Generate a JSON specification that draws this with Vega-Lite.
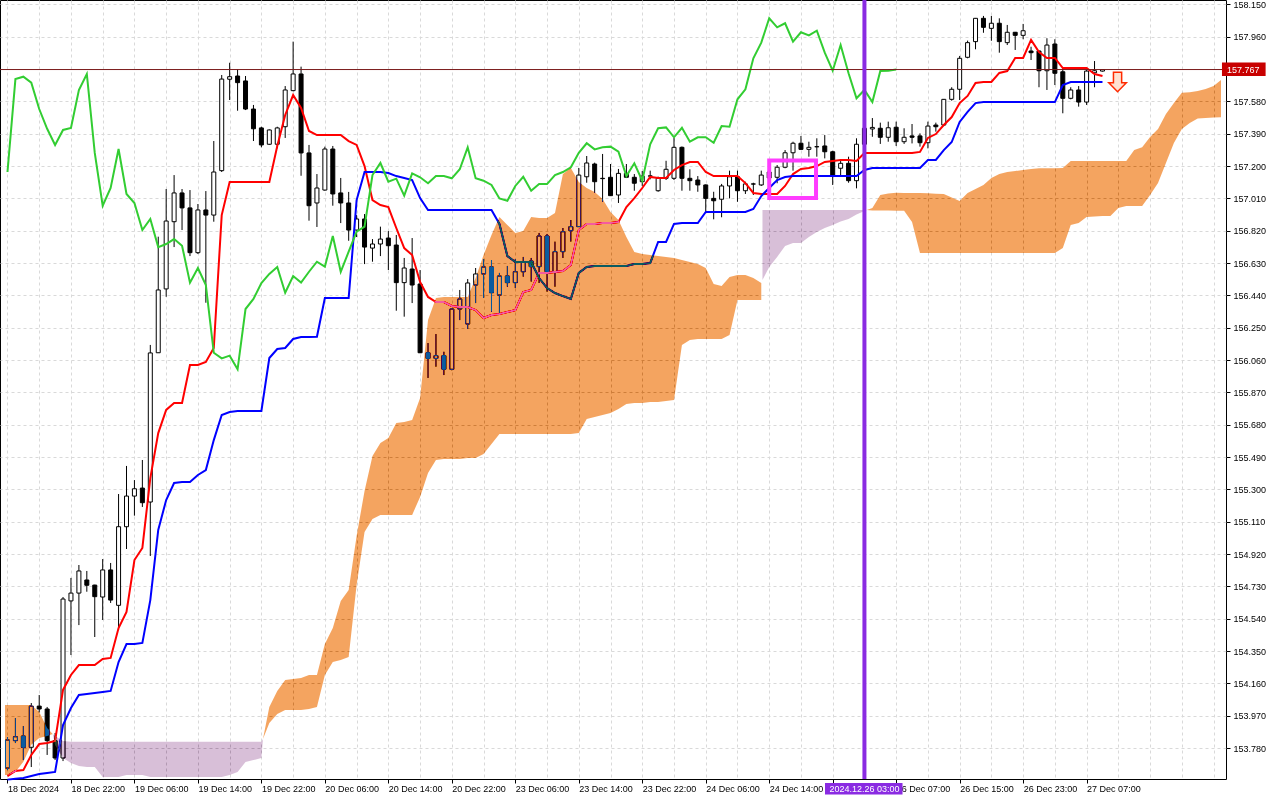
{
"$schema":"https://vega.github.io/schema/vega-lite/v6.json",
"width":1226,"height":779,
"autosize":{"type":"none"},
"padding":{"left":0,"top":0,"right":54,"bottom":21},
"background":"white",
"config":{"view":{"stroke":"#000000","strokeWidth":1,"fill":"white"},"font":"Liberation Sans","axis":{"labelOverlap":false,"tickCount":200}},
"datasets":{
"candles":[
{"i":0,"o":153.663,"h":153.845,"l":153.651,"c":153.828},
{"i":1,"o":153.824,"h":153.957,"l":153.810,"c":153.847},
{"i":2,"o":153.851,"h":153.910,"l":153.710,"c":153.785},
{"i":3,"o":153.785,"h":154.045,"l":153.669,"c":154.027},
{"i":4,"o":154.027,"h":154.092,"l":153.990,"c":154.010},
{"i":5,"o":154.010,"h":154.022,"l":153.740,"c":153.824},
{"i":6,"o":153.824,"h":153.869,"l":153.710,"c":153.722},
{"i":7,"o":153.722,"h":154.668,"l":153.704,"c":154.656},
{"i":8,"o":154.645,"h":154.780,"l":154.327,"c":154.691},
{"i":9,"o":154.691,"h":154.856,"l":154.503,"c":154.821},
{"i":10,"o":154.768,"h":154.821,"l":154.699,"c":154.737},
{"i":11,"o":154.738,"h":154.740,"l":154.433,"c":154.670},
{"i":12,"o":154.668,"h":154.891,"l":154.533,"c":154.827},
{"i":13,"o":154.827,"h":154.868,"l":154.633,"c":154.650},
{"i":14,"o":154.619,"h":155.273,"l":154.474,"c":155.081},
{"i":15,"o":155.081,"h":155.438,"l":154.950,"c":155.261},
{"i":16,"o":155.261,"h":155.355,"l":155.146,"c":155.304},
{"i":17,"o":155.308,"h":155.473,"l":155.197,"c":155.222},
{"i":18,"o":155.226,"h":156.149,"l":154.909,"c":156.102},
{"i":19,"o":156.103,"h":156.785,"l":156.102,"c":156.472},
{"i":20,"o":156.478,"h":157.065,"l":156.432,"c":156.877},
{"i":21,"o":156.873,"h":157.147,"l":156.724,"c":157.042},
{"i":22,"o":157.042,"h":157.065,"l":156.824,"c":156.954},
{"i":23,"o":156.954,"h":157.059,"l":156.671,"c":156.691},
{"i":24,"o":156.691,"h":156.977,"l":156.683,"c":156.942},
{"i":25,"o":156.942,"h":157.053,"l":156.397,"c":156.912},
{"i":26,"o":156.912,"h":157.347,"l":156.873,"c":157.165},
{"i":27,"o":157.173,"h":157.735,"l":157.165,"c":157.711},
{"i":28,"o":157.710,"h":157.807,"l":157.588,"c":157.725},
{"i":29,"o":157.729,"h":157.770,"l":157.525,"c":157.690},
{"i":30,"o":157.700,"h":157.729,"l":157.529,"c":157.535},
{"i":31,"o":157.535,"h":157.559,"l":157.347,"c":157.419},
{"i":32,"o":157.424,"h":157.431,"l":157.310,"c":157.324},
{"i":33,"o":157.328,"h":157.415,"l":157.325,"c":157.412},
{"i":34,"o":157.328,"h":157.431,"l":157.304,"c":157.424},
{"i":35,"o":157.431,"h":157.670,"l":157.365,"c":157.647},
{"i":36,"o":157.643,"h":157.931,"l":157.640,"c":157.741},
{"i":37,"o":157.741,"h":157.784,"l":157.143,"c":157.277},
{"i":38,"o":157.277,"h":157.324,"l":156.879,"c":156.967},
{"i":39,"o":156.983,"h":157.153,"l":156.842,"c":157.071},
{"i":40,"o":157.059,"h":157.314,"l":157.055,"c":157.300},
{"i":41,"o":157.300,"h":157.318,"l":156.967,"c":157.036},
{"i":42,"o":157.042,"h":157.130,"l":156.865,"c":156.983},
{"i":43,"o":156.983,"h":157.048,"l":156.761,"c":156.824},
{"i":44,"o":156.824,"h":156.912,"l":156.783,"c":156.889},
{"i":45,"o":156.889,"h":156.918,"l":156.624,"c":156.724},
{"i":46,"o":156.718,"h":156.771,"l":156.638,"c":156.742},
{"i":47,"o":156.742,"h":156.844,"l":156.671,"c":156.771},
{"i":48,"o":156.777,"h":156.818,"l":156.589,"c":156.732},
{"i":49,"o":156.736,"h":156.795,"l":156.350,"c":156.515},
{"i":50,"o":156.515,"h":156.660,"l":156.315,"c":156.601},
{"i":51,"o":156.595,"h":156.777,"l":156.395,"c":156.501},
{"i":52,"o":156.507,"h":156.589,"l":156.101,"c":156.103},
{"i":53,"o":156.103,"h":156.160,"l":155.955,"c":156.070},
{"i":54,"o":156.070,"h":156.213,"l":156.021,"c":156.086},
{"i":55,"o":156.086,"h":156.109,"l":155.972,"c":156.006},
{"i":56,"o":156.006,"h":156.366,"l":156.000,"c":156.360},
{"i":57,"o":156.360,"h":156.472,"l":156.295,"c":156.419},
{"i":58,"o":156.272,"h":156.536,"l":156.243,"c":156.513},
{"i":59,"o":156.501,"h":156.601,"l":156.395,"c":156.566},
{"i":60,"o":156.566,"h":156.654,"l":156.425,"c":156.607},
{"i":61,"o":156.607,"h":156.648,"l":156.344,"c":156.456},
{"i":62,"o":156.442,"h":156.572,"l":156.337,"c":156.554},
{"i":63,"o":156.554,"h":156.613,"l":156.491,"c":156.515},
{"i":64,"o":156.515,"h":156.654,"l":156.483,"c":156.579},
{"i":65,"o":156.579,"h":156.666,"l":156.550,"c":156.638},
{"i":66,"o":156.642,"h":156.660,"l":156.521,"c":156.609},
{"i":67,"o":156.609,"h":156.807,"l":156.513,"c":156.789},
{"i":68,"o":156.789,"h":156.801,"l":156.462,"c":156.579},
{"i":69,"o":156.579,"h":156.756,"l":156.491,"c":156.697},
{"i":70,"o":156.697,"h":156.836,"l":156.660,"c":156.814},
{"i":71,"o":156.820,"h":156.883,"l":156.756,"c":156.844},
{"i":72,"o":156.844,"h":157.189,"l":156.842,"c":157.147},
{"i":73,"o":157.137,"h":157.259,"l":157.102,"c":157.218},
{"i":74,"o":157.212,"h":157.220,"l":157.043,"c":157.108},
{"i":75,"o":157.128,"h":157.271,"l":156.990,"c":157.126},
{"i":76,"o":157.134,"h":157.212,"l":157.024,"c":157.026},
{"i":77,"o":157.030,"h":157.183,"l":156.983,"c":157.157},
{"i":78,"o":157.157,"h":157.212,"l":157.130,"c":157.134},
{"i":79,"o":157.134,"h":157.153,"l":157.055,"c":157.099},
{"i":80,"o":157.108,"h":157.171,"l":157.083,"c":157.141},
{"i":81,"o":157.141,"h":157.173,"l":157.122,"c":157.142},
{"i":82,"o":157.055,"h":157.138,"l":157.049,"c":157.128},
{"i":83,"o":157.128,"h":157.231,"l":157.118,"c":157.181},
{"i":84,"o":157.128,"h":157.365,"l":157.118,"c":157.310},
{"i":85,"o":157.310,"h":157.315,"l":157.055,"c":157.128},
{"i":86,"o":157.128,"h":157.181,"l":157.055,"c":157.114},
{"i":87,"o":157.118,"h":157.141,"l":157.049,"c":157.089},
{"i":88,"o":157.089,"h":157.092,"l":156.932,"c":157.010},
{"i":89,"o":157.010,"h":157.049,"l":156.887,"c":156.996},
{"i":90,"o":157.005,"h":157.095,"l":156.899,"c":157.083},
{"i":91,"o":157.083,"h":157.173,"l":157.010,"c":157.137},
{"i":92,"o":157.137,"h":157.173,"l":156.990,"c":157.055},
{"i":93,"o":157.055,"h":157.108,"l":157.036,"c":157.095},
{"i":94,"o":157.095,"h":157.102,"l":157.030,"c":157.094},
{"i":95,"o":157.089,"h":157.173,"l":157.083,"c":157.147},
{"i":96,"o":157.130,"h":157.189,"l":157.106,"c":157.165},
{"i":97,"o":157.134,"h":157.206,"l":157.099,"c":157.193},
{"i":98,"o":157.193,"h":157.294,"l":157.187,"c":157.278},
{"i":99,"o":157.278,"h":157.343,"l":157.173,"c":157.334},
{"i":100,"o":157.334,"h":157.377,"l":157.296,"c":157.298},
{"i":101,"o":157.298,"h":157.343,"l":157.255,"c":157.310},
{"i":102,"o":157.313,"h":157.363,"l":157.255,"c":157.314},
{"i":103,"o":157.318,"h":157.382,"l":157.245,"c":157.284},
{"i":104,"o":157.284,"h":157.290,"l":157.089,"c":157.141},
{"i":105,"o":157.187,"h":157.240,"l":157.141,"c":157.216},
{"i":106,"o":157.216,"h":157.255,"l":157.102,"c":157.114},
{"i":107,"o":157.114,"h":157.363,"l":157.069,"c":157.328},
{"i":108,"o":157.328,"h":157.471,"l":157.294,"c":157.422},
{"i":109,"o":157.418,"h":157.482,"l":157.372,"c":157.427},
{"i":110,"o":157.422,"h":157.455,"l":157.330,"c":157.369},
{"i":111,"o":157.369,"h":157.461,"l":157.343,"c":157.425},
{"i":112,"o":157.428,"h":157.461,"l":157.318,"c":157.343},
{"i":113,"o":157.343,"h":157.422,"l":157.330,"c":157.369},
{"i":114,"o":157.377,"h":157.447,"l":157.333,"c":157.369},
{"i":115,"o":157.377,"h":157.392,"l":157.314,"c":157.337},
{"i":116,"o":157.337,"h":157.461,"l":157.304,"c":157.435},
{"i":117,"o":157.441,"h":157.455,"l":157.402,"c":157.431},
{"i":118,"o":157.441,"h":157.594,"l":157.435,"c":157.592},
{"i":119,"o":157.592,"h":157.663,"l":157.584,"c":157.651},
{"i":120,"o":157.651,"h":157.847,"l":157.588,"c":157.833},
{"i":121,"o":157.839,"h":157.937,"l":157.833,"c":157.925},
{"i":122,"o":157.931,"h":158.070,"l":157.886,"c":158.068},
{"i":123,"o":158.068,"h":158.082,"l":157.983,"c":158.015},
{"i":124,"o":158.009,"h":158.082,"l":157.936,"c":158.039},
{"i":125,"o":158.039,"h":158.068,"l":157.866,"c":157.931},
{"i":126,"o":157.925,"h":158.029,"l":157.911,"c":157.986},
{"i":127,"o":157.986,"h":157.988,"l":157.882,"c":157.968},
{"i":128,"o":157.968,"h":158.035,"l":157.945,"c":157.995},
{"i":129,"o":157.876,"h":157.901,"l":157.823,"c":157.866},
{"i":130,"o":157.876,"h":157.878,"l":157.663,"c":157.760},
{"i":131,"o":157.760,"h":157.951,"l":157.647,"c":157.911},
{"i":132,"o":157.917,"h":157.945,"l":157.676,"c":157.745},
{"i":133,"o":157.754,"h":157.774,"l":157.510,"c":157.598},
{"i":134,"o":157.598,"h":157.663,"l":157.592,"c":157.647},
{"i":135,"o":157.647,"h":157.670,"l":157.549,"c":157.576},
{"i":136,"o":157.576,"h":157.764,"l":157.559,"c":157.758},
{"i":137,"o":157.748,"h":157.817,"l":157.663,"c":157.760},
{"i":138,"o":157.758,"h":157.770,"l":157.755,"c":157.767}
],
"ind":[
{"i":0,"tenkan":153.616,"kijun":153.595,"chikou":157.165},
{"i":1,"tenkan":153.646,"kijun":153.600,"chikou":157.711},
{"i":2,"tenkan":153.651,"kijun":153.605,"chikou":157.725},
{"i":3,"tenkan":153.740,"kijun":153.616,"chikou":157.690},
{"i":4,"tenkan":153.804,"kijun":153.628,"chikou":157.535},
{"i":5,"tenkan":153.810,"kijun":153.634,"chikou":157.419},
{"i":6,"tenkan":153.822,"kijun":153.640,"chikou":157.324},
{"i":7,"tenkan":154.122,"kijun":153.916,"chikou":157.412},
{"i":8,"tenkan":154.210,"kijun":154.016,"chikou":157.424},
{"i":9,"tenkan":154.268,"kijun":154.092,"chikou":157.647},
{"i":10,"tenkan":154.268,"kijun":154.098,"chikou":157.741},
{"i":11,"tenkan":154.268,"kijun":154.104,"chikou":157.277},
{"i":12,"tenkan":154.304,"kijun":154.110,"chikou":156.967},
{"i":13,"tenkan":154.310,"kijun":154.116,"chikou":157.071},
{"i":14,"tenkan":154.486,"kijun":154.286,"chikou":157.300},
{"i":15,"tenkan":154.580,"kijun":154.392,"chikou":157.036},
{"i":16,"tenkan":154.885,"kijun":154.392,"chikou":156.983},
{"i":17,"tenkan":154.956,"kijun":154.398,"chikou":156.824},
{"i":18,"tenkan":155.367,"kijun":154.650,"chikou":156.889},
{"i":19,"tenkan":155.631,"kijun":155.062,"chikou":156.724},
{"i":20,"tenkan":155.767,"kijun":155.238,"chikou":156.742},
{"i":21,"tenkan":155.808,"kijun":155.338,"chikou":156.771},
{"i":22,"tenkan":155.808,"kijun":155.344,"chikou":156.732},
{"i":23,"tenkan":156.031,"kijun":155.344,"chikou":156.515},
{"i":24,"tenkan":156.031,"kijun":155.385,"chikou":156.601},
{"i":25,"tenkan":156.049,"kijun":155.414,"chikou":156.501},
{"i":26,"tenkan":156.131,"kijun":155.590,"chikou":156.103},
{"i":27,"tenkan":156.912,"kijun":155.737,"chikou":156.070},
{"i":28,"tenkan":157.106,"kijun":155.755,"chikou":156.086},
{"i":29,"tenkan":157.106,"kijun":155.761,"chikou":156.006},
{"i":30,"tenkan":157.106,"kijun":155.761,"chikou":156.360},
{"i":31,"tenkan":157.106,"kijun":155.761,"chikou":156.419},
{"i":32,"tenkan":157.106,"kijun":155.761,"chikou":156.513},
{"i":33,"tenkan":157.106,"kijun":156.072,"chikou":156.566},
{"i":34,"tenkan":157.318,"kijun":156.125,"chikou":156.607},
{"i":35,"tenkan":157.500,"kijun":156.131,"chikou":156.456},
{"i":36,"tenkan":157.617,"kijun":156.184,"chikou":156.554},
{"i":37,"tenkan":157.541,"kijun":156.196,"chikou":156.515},
{"i":38,"tenkan":157.406,"kijun":156.196,"chikou":156.579},
{"i":39,"tenkan":157.382,"kijun":156.197,"chikou":156.638},
{"i":40,"tenkan":157.382,"kijun":156.425,"chikou":156.609},
{"i":41,"tenkan":157.382,"kijun":156.425,"chikou":156.789},
{"i":42,"tenkan":157.382,"kijun":156.425,"chikou":156.579},
{"i":43,"tenkan":157.347,"kijun":156.425,"chikou":156.697},
{"i":44,"tenkan":157.324,"kijun":157.000,"chikou":156.814},
{"i":45,"tenkan":157.200,"kijun":157.165,"chikou":156.844},
{"i":46,"tenkan":157.000,"kijun":157.165,"chikou":157.147},
{"i":47,"tenkan":156.971,"kijun":157.165,"chikou":157.218},
{"i":48,"tenkan":156.959,"kijun":157.159,"chikou":157.108},
{"i":49,"tenkan":156.836,"kijun":157.141,"chikou":157.126},
{"i":50,"tenkan":156.718,"kijun":157.130,"chikou":157.026},
{"i":51,"tenkan":156.677,"kijun":157.118,"chikou":157.157},
{"i":52,"tenkan":156.519,"kijun":157.012,"chikou":157.134},
{"i":53,"tenkan":156.431,"kijun":156.942,"chikou":157.099},
{"i":54,"tenkan":156.401,"kijun":156.942,"chikou":157.141},
{"i":55,"tenkan":156.401,"kijun":156.942,"chikou":157.142},
{"i":56,"tenkan":156.378,"kijun":156.942,"chikou":157.128},
{"i":57,"tenkan":156.372,"kijun":156.942,"chikou":157.181},
{"i":58,"tenkan":156.372,"kijun":156.942,"chikou":157.310},
{"i":59,"tenkan":156.354,"kijun":156.942,"chikou":157.128},
{"i":60,"tenkan":156.307,"kijun":156.942,"chikou":157.114},
{"i":61,"tenkan":156.325,"kijun":156.942,"chikou":157.089},
{"i":62,"tenkan":156.331,"kijun":156.860,"chikou":157.010},
{"i":63,"tenkan":156.342,"kijun":156.671,"chikou":156.996},
{"i":64,"tenkan":156.354,"kijun":156.636,"chikou":157.083},
{"i":65,"tenkan":156.460,"kijun":156.636,"chikou":157.137},
{"i":66,"tenkan":156.472,"kijun":156.636,"chikou":157.055},
{"i":67,"tenkan":156.572,"kijun":156.542,"chikou":157.095},
{"i":68,"tenkan":156.572,"kijun":156.483,"chikou":157.094},
{"i":69,"tenkan":156.578,"kijun":156.454,"chikou":157.147},
{"i":70,"tenkan":156.583,"kijun":156.436,"chikou":157.165},
{"i":71,"tenkan":156.619,"kijun":156.419,"chikou":157.193},
{"i":72,"tenkan":156.824,"kijun":156.572,"chikou":157.278},
{"i":73,"tenkan":156.860,"kijun":156.607,"chikou":157.334},
{"i":74,"tenkan":156.860,"kijun":156.613,"chikou":157.298},
{"i":75,"tenkan":156.865,"kijun":156.613,"chikou":157.310},
{"i":76,"tenkan":156.865,"kijun":156.613,"chikou":157.314},
{"i":77,"tenkan":156.871,"kijun":156.613,"chikou":157.284},
{"i":78,"tenkan":156.959,"kijun":156.613,"chikou":157.141},
{"i":79,"tenkan":157.012,"kijun":156.624,"chikou":157.216},
{"i":80,"tenkan":157.071,"kijun":156.624,"chikou":157.114},
{"i":81,"tenkan":157.136,"kijun":156.630,"chikou":157.328},
{"i":82,"tenkan":157.130,"kijun":156.754,"chikou":157.422},
{"i":83,"tenkan":157.130,"kijun":156.754,"chikou":157.427},
{"i":84,"tenkan":157.177,"kijun":156.860,"chikou":157.369},
{"i":85,"tenkan":157.206,"kijun":156.865,"chikou":157.425},
{"i":86,"tenkan":157.224,"kijun":156.865,"chikou":157.343},
{"i":87,"tenkan":157.224,"kijun":156.865,"chikou":157.369},
{"i":88,"tenkan":157.165,"kijun":156.930,"chikou":157.369},
{"i":89,"tenkan":157.141,"kijun":156.930,"chikou":157.337},
{"i":90,"tenkan":157.141,"kijun":156.930,"chikou":157.435},
{"i":91,"tenkan":157.141,"kijun":156.930,"chikou":157.431},
{"i":92,"tenkan":157.141,"kijun":156.930,"chikou":157.592},
{"i":93,"tenkan":157.100,"kijun":156.930,"chikou":157.651},
{"i":94,"tenkan":157.042,"kijun":156.948,"chikou":157.833},
{"i":95,"tenkan":157.036,"kijun":157.024,"chikou":157.925},
{"i":96,"tenkan":157.036,"kijun":157.071,"chikou":158.068},
{"i":97,"tenkan":157.036,"kijun":157.118,"chikou":158.015},
{"i":98,"tenkan":157.083,"kijun":157.136,"chikou":158.039},
{"i":99,"tenkan":157.153,"kijun":157.141,"chikou":157.931},
{"i":100,"tenkan":157.183,"kijun":157.141,"chikou":157.986},
{"i":101,"tenkan":157.189,"kijun":157.141,"chikou":157.968},
{"i":102,"tenkan":157.200,"kijun":157.141,"chikou":157.995},
{"i":103,"tenkan":157.224,"kijun":157.141,"chikou":157.866},
{"i":104,"tenkan":157.230,"kijun":157.141,"chikou":157.760},
{"i":105,"tenkan":157.236,"kijun":157.141,"chikou":157.911},
{"i":106,"tenkan":157.236,"kijun":157.141,"chikou":157.745},
{"i":107,"tenkan":157.230,"kijun":157.141,"chikou":157.598},
{"i":108,"tenkan":157.277,"kijun":157.177,"chikou":157.647},
{"i":109,"tenkan":157.277,"kijun":157.189,"chikou":157.576},
{"i":110,"tenkan":157.277,"kijun":157.189,"chikou":157.758},
{"i":111,"tenkan":157.277,"kijun":157.189,"chikou":157.760},
{"i":112,"tenkan":157.277,"kijun":157.189,"chikou":157.767},
{"i":113,"tenkan":157.277,"kijun":157.189},
{"i":114,"tenkan":157.277,"kijun":157.189},
{"i":115,"tenkan":157.283,"kijun":157.189},
{"i":116,"tenkan":157.365,"kijun":157.236},
{"i":117,"tenkan":157.388,"kijun":157.236},
{"i":118,"tenkan":157.441,"kijun":157.294},
{"i":119,"tenkan":157.488,"kijun":157.341},
{"i":120,"tenkan":157.570,"kijun":157.459},
{"i":121,"tenkan":157.612,"kijun":157.518},
{"i":122,"tenkan":157.688,"kijun":157.570},
{"i":123,"tenkan":157.694,"kijun":157.576},
{"i":124,"tenkan":157.694,"kijun":157.576},
{"i":125,"tenkan":157.747,"kijun":157.576},
{"i":126,"tenkan":157.758,"kijun":157.576},
{"i":127,"tenkan":157.835,"kijun":157.576},
{"i":128,"tenkan":157.835,"kijun":157.576},
{"i":129,"tenkan":157.941,"kijun":157.576},
{"i":130,"tenkan":157.870,"kijun":157.576},
{"i":131,"tenkan":157.835,"kijun":157.576},
{"i":132,"tenkan":157.835,"kijun":157.576},
{"i":133,"tenkan":157.776,"kijun":157.676},
{"i":134,"tenkan":157.776,"kijun":157.694},
{"i":135,"tenkan":157.776,"kijun":157.694},
{"i":136,"tenkan":157.776,"kijun":157.694},
{"i":137,"tenkan":157.741,"kijun":157.694},
{"i":138,"tenkan":157.729,"kijun":157.694}
],
"kumoUp":[
{"i":-0.3125,"top":154.033,"bot":153.622,"seg":"u1"},
{"i":0,"top":154.033,"bot":153.622,"seg":"u1"},
{"i":1,"top":154.033,"bot":153.640,"seg":"u1"},
{"i":2,"top":154.033,"bot":153.700,"seg":"u1"},
{"i":3,"top":154.033,"bot":153.800,"seg":"u1"},
{"i":4,"top":153.992,"bot":153.840,"seg":"u1"},
{"i":5,"top":153.898,"bot":153.851,"seg":"u1"},
{"i":5.7,"top":153.863,"bot":153.863,"seg":"u1"},
{"i":32.2,"top":153.834,"bot":153.834,"seg":"u2"},
{"i":33,"top":154.022,"bot":153.928,"seg":"u2"},
{"i":34,"top":154.116,"bot":153.981,"seg":"u2"},
{"i":35,"top":154.180,"bot":154.004,"seg":"u2"},
{"i":36,"top":154.186,"bot":154.004,"seg":"u2"},
{"i":37,"top":154.192,"bot":154.004,"seg":"u2"},
{"i":38,"top":154.210,"bot":154.010,"seg":"u2"},
{"i":39,"top":154.210,"bot":154.022,"seg":"u2"},
{"i":40,"top":154.392,"bot":154.210,"seg":"u2"},
{"i":41,"top":154.486,"bot":154.286,"seg":"u2"},
{"i":42,"top":154.645,"bot":154.298,"seg":"u2"},
{"i":43,"top":154.709,"bot":154.316,"seg":"u2"},
{"i":44,"top":155.026,"bot":154.738,"seg":"u2"},
{"i":45,"top":155.291,"bot":155.050,"seg":"u2"},
{"i":46,"top":155.496,"bot":155.126,"seg":"u2"},
{"i":47,"top":155.573,"bot":155.150,"seg":"u2"},
{"i":48,"top":155.602,"bot":155.150,"seg":"u2"},
{"i":49,"top":155.690,"bot":155.150,"seg":"u2"},
{"i":50,"top":155.696,"bot":155.150,"seg":"u2"},
{"i":51,"top":155.708,"bot":155.150,"seg":"u2"},
{"i":52,"top":155.837,"bot":155.256,"seg":"u2"},
{"i":53,"top":156.295,"bot":155.397,"seg":"u2"},
{"i":54,"top":156.425,"bot":155.473,"seg":"u2"},
{"i":55,"top":156.431,"bot":155.479,"seg":"u2"},
{"i":56,"top":156.431,"bot":155.479,"seg":"u2"},
{"i":57,"top":156.431,"bot":155.479,"seg":"u2"},
{"i":58,"top":156.431,"bot":155.485,"seg":"u2"},
{"i":59,"top":156.542,"bot":155.485,"seg":"u2"},
{"i":60,"top":156.677,"bot":155.508,"seg":"u2"},
{"i":61,"top":156.795,"bot":155.567,"seg":"u2"},
{"i":62,"top":156.901,"bot":155.626,"seg":"u2"},
{"i":63,"top":156.854,"bot":155.626,"seg":"u2"},
{"i":64,"top":156.807,"bot":155.626,"seg":"u2"},
{"i":65,"top":156.818,"bot":155.626,"seg":"u2"},
{"i":66,"top":156.901,"bot":155.626,"seg":"u2"},
{"i":67,"top":156.895,"bot":155.626,"seg":"u2"},
{"i":68,"top":156.895,"bot":155.626,"seg":"u2"},
{"i":69,"top":156.924,"bot":155.626,"seg":"u2"},
{"i":70,"top":157.153,"bot":155.626,"seg":"u2"},
{"i":71,"top":157.189,"bot":155.626,"seg":"u2"},
{"i":72,"top":157.106,"bot":155.632,"seg":"u2"},
{"i":73,"top":157.071,"bot":155.714,"seg":"u2"},
{"i":74,"top":157.047,"bot":155.726,"seg":"u2"},
{"i":75,"top":157.006,"bot":155.737,"seg":"u2"},
{"i":76,"top":156.930,"bot":155.749,"seg":"u2"},
{"i":77,"top":156.883,"bot":155.773,"seg":"u2"},
{"i":78,"top":156.783,"bot":155.802,"seg":"u2"},
{"i":79,"top":156.695,"bot":155.808,"seg":"u2"},
{"i":80,"top":156.683,"bot":155.808,"seg":"u2"},
{"i":81,"top":156.677,"bot":155.814,"seg":"u2"},
{"i":82,"top":156.671,"bot":155.814,"seg":"u2"},
{"i":83,"top":156.666,"bot":155.820,"seg":"u2"},
{"i":84,"top":156.660,"bot":155.825,"seg":"u2"},
{"i":85,"top":156.648,"bot":156.149,"seg":"u2"},
{"i":86,"top":156.636,"bot":156.178,"seg":"u2"},
{"i":87,"top":156.624,"bot":156.184,"seg":"u2"},
{"i":88,"top":156.601,"bot":156.184,"seg":"u2"},
{"i":89,"top":156.507,"bot":156.184,"seg":"u2"},
{"i":90,"top":156.495,"bot":156.184,"seg":"u2"},
{"i":91,"top":156.548,"bot":156.207,"seg":"u2"},
{"i":92,"top":156.560,"bot":156.413,"seg":"u2"},
{"i":93,"top":156.560,"bot":156.413,"seg":"u2"},
{"i":94,"top":156.542,"bot":156.413,"seg":"u2"},
{"i":95,"top":156.513,"bot":156.413,"seg":"u2"},
{"i":108.3,"top":156.942,"bot":156.942,"seg":"u3"},
{"i":109,"top":156.954,"bot":156.939,"seg":"u3"},
{"i":110,"top":157.030,"bot":156.939,"seg":"u3"},
{"i":111,"top":157.039,"bot":156.939,"seg":"u3"},
{"i":112,"top":157.043,"bot":156.938,"seg":"u3"},
{"i":113,"top":157.042,"bot":156.938,"seg":"u3"},
{"i":114,"top":157.042,"bot":156.871,"seg":"u3"},
{"i":115,"top":157.042,"bot":156.689,"seg":"u3"},
{"i":116,"top":157.040,"bot":156.689,"seg":"u3"},
{"i":117,"top":157.037,"bot":156.689,"seg":"u3"},
{"i":118,"top":157.036,"bot":156.689,"seg":"u3"},
{"i":119,"top":157.015,"bot":156.689,"seg":"u3"},
{"i":120,"top":156.995,"bot":156.689,"seg":"u3"},
{"i":121,"top":157.042,"bot":156.689,"seg":"u3"},
{"i":122,"top":157.065,"bot":156.689,"seg":"u3"},
{"i":123,"top":157.089,"bot":156.689,"seg":"u3"},
{"i":124,"top":157.130,"bot":156.689,"seg":"u3"},
{"i":125,"top":157.153,"bot":156.689,"seg":"u3"},
{"i":126,"top":157.165,"bot":156.689,"seg":"u3"},
{"i":127,"top":157.171,"bot":156.689,"seg":"u3"},
{"i":128,"top":157.177,"bot":156.689,"seg":"u3"},
{"i":129,"top":157.183,"bot":156.689,"seg":"u3"},
{"i":130,"top":157.187,"bot":156.689,"seg":"u3"},
{"i":131,"top":157.187,"bot":156.689,"seg":"u3"},
{"i":132,"top":157.187,"bot":156.689,"seg":"u3"},
{"i":133,"top":157.189,"bot":156.718,"seg":"u3"},
{"i":134,"top":157.230,"bot":156.854,"seg":"u3"},
{"i":135,"top":157.230,"bot":156.865,"seg":"u3"},
{"i":136,"top":157.230,"bot":156.901,"seg":"u3"},
{"i":137,"top":157.230,"bot":156.904,"seg":"u3"},
{"i":138,"top":157.230,"bot":156.907,"seg":"u3"},
{"i":139,"top":157.230,"bot":156.907,"seg":"u3"},
{"i":140,"top":157.230,"bot":156.954,"seg":"u3"},
{"i":141,"top":157.230,"bot":156.965,"seg":"u3"},
{"i":142,"top":157.294,"bot":156.965,"seg":"u3"},
{"i":143,"top":157.310,"bot":156.965,"seg":"u3"},
{"i":144,"top":157.371,"bot":157.030,"seg":"u3"},
{"i":145,"top":157.418,"bot":157.100,"seg":"u3"},
{"i":146,"top":157.506,"bot":157.218,"seg":"u3"},
{"i":147,"top":157.570,"bot":157.335,"seg":"u3"},
{"i":148,"top":157.631,"bot":157.418,"seg":"u3"},
{"i":149,"top":157.633,"bot":157.453,"seg":"u3"},
{"i":150,"top":157.641,"bot":157.479,"seg":"u3"},
{"i":151,"top":157.653,"bot":157.482,"seg":"u3"},
{"i":152,"top":157.670,"bot":157.485,"seg":"u3"},
{"i":152.9375,"top":157.706,"bot":157.486,"seg":"u3"}
],
"kumoDn":[
{"i":5.7,"top":153.863,"bot":153.863,"seg":"d1"},
{"i":6,"top":153.851,"bot":153.798,"seg":"d1"},
{"i":7,"top":153.822,"bot":153.722,"seg":"d1"},
{"i":8,"top":153.818,"bot":153.693,"seg":"d1"},
{"i":9,"top":153.818,"bot":153.675,"seg":"d1"},
{"i":10,"top":153.818,"bot":153.669,"seg":"d1"},
{"i":11,"top":153.818,"bot":153.669,"seg":"d1"},
{"i":12,"top":153.818,"bot":153.610,"seg":"d1"},
{"i":13,"top":153.818,"bot":153.610,"seg":"d1"},
{"i":14,"top":153.818,"bot":153.610,"seg":"d1"},
{"i":15,"top":153.818,"bot":153.622,"seg":"d1"},
{"i":16,"top":153.818,"bot":153.622,"seg":"d1"},
{"i":17,"top":153.818,"bot":153.622,"seg":"d1"},
{"i":18,"top":153.818,"bot":153.610,"seg":"d1"},
{"i":19,"top":153.818,"bot":153.610,"seg":"d1"},
{"i":20,"top":153.818,"bot":153.610,"seg":"d1"},
{"i":21,"top":153.818,"bot":153.610,"seg":"d1"},
{"i":22,"top":153.818,"bot":153.610,"seg":"d1"},
{"i":23,"top":153.818,"bot":153.610,"seg":"d1"},
{"i":24,"top":153.818,"bot":153.610,"seg":"d1"},
{"i":25,"top":153.818,"bot":153.610,"seg":"d1"},
{"i":26,"top":153.818,"bot":153.610,"seg":"d1"},
{"i":27,"top":153.818,"bot":153.610,"seg":"d1"},
{"i":28,"top":153.818,"bot":153.622,"seg":"d1"},
{"i":29,"top":153.818,"bot":153.640,"seg":"d1"},
{"i":30,"top":153.818,"bot":153.698,"seg":"d1"},
{"i":31,"top":153.818,"bot":153.710,"seg":"d1"},
{"i":32,"top":153.818,"bot":153.722,"seg":"d1"},
{"i":32.2,"top":153.834,"bot":153.834,"seg":"d1"},
{"i":95.15,"top":156.942,"bot":156.530,"seg":"d2"},
{"i":96,"top":156.942,"bot":156.607,"seg":"d2"},
{"i":97,"top":156.942,"bot":156.666,"seg":"d2"},
{"i":98,"top":156.942,"bot":156.730,"seg":"d2"},
{"i":99,"top":156.942,"bot":156.748,"seg":"d2"},
{"i":100,"top":156.942,"bot":156.748,"seg":"d2"},
{"i":101,"top":156.942,"bot":156.783,"seg":"d2"},
{"i":102,"top":156.942,"bot":156.812,"seg":"d2"},
{"i":103,"top":156.942,"bot":156.836,"seg":"d2"},
{"i":104,"top":156.942,"bot":156.854,"seg":"d2"},
{"i":105,"top":156.942,"bot":156.874,"seg":"d2"},
{"i":106,"top":156.942,"bot":156.889,"seg":"d2"},
{"i":107,"top":156.942,"bot":156.915,"seg":"d2"},
{"i":108.3,"top":156.942,"bot":156.942,"seg":"d2"}
],
"box":[{"x1":96.0,"x2":101.9,"p1":157.232,"p2":157.012}],
"price":[{"price":157.767}],
"event":[{"i":108,"label":"2024.12.26 03:00"}],
"signal":[{"i":139.9,"p":157.694}]
},
"layer":[
{"data":{"name":"candles"},"mark":{"type":"rule","color":"#000000","strokeWidth":1},
 "encoding":{
  "x":{"field":"i","type":"quantitative","scale":{"domain":[-0.3125,152.9375],"nice":false,"zero":false},
   "axis":{"orient":"bottom","title":null,"domain":false,"tickCount":200,"values":[0,4,8,12,16,20,24,28,32,36,40,44,48,52,56,60,64,68,72,76,80,84,88,92,96,100,104,108,112,116,120,124,128,132,136,140,144,148,152],
    "grid":true,"gridColor":"#d9d9d9","gridDash":[3,3],"gridWidth":1,"ticks":true,"tickSize":4,"tickWidth":1,
    "tickColor":{"condition":{"test":"datum.value % 8 === 0 && datum.value <= 136","value":"#000000"},"value":"rgba(0,0,0,0)"},
    "labelExpr":"(datum.value % 8 === 0 && datum.value <= 136 && datum.value !== 104) ? ['18 Dec 2024','18 Dec 22:00','19 Dec 06:00','19 Dec 14:00','19 Dec 22:00','20 Dec 06:00','20 Dec 14:00','20 Dec 22:00','23 Dec 06:00','23 Dec 14:00','23 Dec 22:00','24 Dec 06:00','24 Dec 14:00','24 Dec 22:00','26 Dec 07:00','26 Dec 15:00','26 Dec 23:00','27 Dec 07:00'][datum.value / 8] : ''",
    "labelAlign":"left","labelBaseline":"top","labelPadding":1,"labelFontSize":9,"labelFont":"Liberation Sans","labelColor":"#000000","labelOverlap":false,"labelFlush":false,"labelBound":false}},
  "y":{"field":"l","type":"quantitative","scale":{"domain":[153.5987,158.1756],"nice":false,"zero":false},
   "axis":{"orient":"right","title":null,"domain":false,"tickCount":200,"values":[153.78,153.97,154.16,154.35,154.54,154.73,154.92,155.11,155.3,155.49,155.68,155.87,156.06,156.25,156.44,156.63,156.82,157.01,157.2,157.39,157.58,157.77,157.96,158.15],
    "labelExpr":"abs(datum.value - 157.77) < 0.001 ? '' : format(datum.value, '.3f')",
    "grid":true,"gridColor":"#d9d9d9","gridDash":[3,3],"gridWidth":1,"tickSize":4,"tickColor":"#000000","labelPadding":3,"labelFontSize":9,"labelFont":"Liberation Sans","labelColor":"#000000","labelOverlap":false,"labelFlush":false,"labelBound":false,"labelBaseline":"middle"}},
  "y2":{"field":"h"}}},
{"data":{"name":"candles"},"mark":{"type":"bar","size":4,"stroke":"#000000","strokeWidth":1},
 "encoding":{
  "x":{"field":"i","type":"quantitative","scale":{"domain":[-0.3125,152.9375],"nice":false,"zero":false},"axis":{"title":null,"labelOverlap":false,"tickCount":200}},
  "y":{"field":"o","type":"quantitative","scale":{"domain":[153.5987,158.1756],"nice":false,"zero":false},"axis":{"title":null,"labelOverlap":false,"tickCount":200}},
  "y2":{"field":"c"},
  "fill":{"condition":{"test":"datum.c >= datum.o","value":"#ffffff"},"value":"#000000"}}},
{"data":{"name":"ind"},"mark":{"type":"line","color":"#ff0000","strokeWidth":2},
 "encoding":{
  "x":{"field":"i","type":"quantitative","scale":{"domain":[-0.3125,152.9375],"nice":false,"zero":false},"axis":{"title":null,"labelOverlap":false,"tickCount":200}},
  "y":{"field":"tenkan","type":"quantitative","scale":{"domain":[153.5987,158.1756],"nice":false,"zero":false},"axis":{"title":null,"labelOverlap":false,"tickCount":200}}}},
{"data":{"name":"ind"},"mark":{"type":"line","color":"#0000ff","strokeWidth":2},
 "encoding":{
  "x":{"field":"i","type":"quantitative","scale":{"domain":[-0.3125,152.9375],"nice":false,"zero":false},"axis":{"title":null,"labelOverlap":false,"tickCount":200}},
  "y":{"field":"kijun","type":"quantitative","scale":{"domain":[153.5987,158.1756],"nice":false,"zero":false},"axis":{"title":null,"labelOverlap":false,"tickCount":200}}}},
{"data":{"name":"ind"},"mark":{"type":"line","color":"#32cd32","strokeWidth":2},
 "encoding":{
  "x":{"field":"i","type":"quantitative","scale":{"domain":[-0.3125,152.9375],"nice":false,"zero":false},"axis":{"title":null,"labelOverlap":false,"tickCount":200}},
  "y":{"field":"chikou","type":"quantitative","scale":{"domain":[153.5987,158.1756],"nice":false,"zero":false},"axis":{"title":null,"labelOverlap":false,"tickCount":200}}}},
{"data":{"name":"kumoUp"},"mark":{"type":"area","fill":"#0b5b9f","blend":"difference","clip":false,"opacity":1},
 "encoding":{
  "x":{"field":"i","type":"quantitative","scale":{"domain":[-0.3125,152.9375],"nice":false,"zero":false},"axis":{"title":null,"labelOverlap":false,"tickCount":200}},
  "y":{"field":"top","type":"quantitative","scale":{"domain":[153.5987,158.1756],"nice":false,"zero":false},"axis":{"title":null,"labelOverlap":false,"tickCount":200}},
  "y2":{"field":"bot"},
  "detail":{"field":"seg","type":"nominal"}}},
{"data":{"name":"kumoDn"},"mark":{"type":"area","fill":"#274027","blend":"difference","clip":false,"opacity":1},
 "encoding":{
  "x":{"field":"i","type":"quantitative","scale":{"domain":[-0.3125,152.9375],"nice":false,"zero":false},"axis":{"title":null,"labelOverlap":false,"tickCount":200}},
  "y":{"field":"top","type":"quantitative","scale":{"domain":[153.5987,158.1756],"nice":false,"zero":false},"axis":{"title":null,"labelOverlap":false,"tickCount":200}},
  "y2":{"field":"bot"},
  "detail":{"field":"seg","type":"nominal"}}},
{"data":{"name":"price"},"mark":{"type":"rule","color":"#7a1a1a","strokeWidth":1},
 "encoding":{
  "y":{"field":"price","type":"quantitative","scale":{"domain":[153.5987,158.1756],"nice":false,"zero":false},"axis":{"title":null,"labelOverlap":false,"tickCount":200}}}},
{"data":{"name":"box"},"mark":{"type":"rect","fillOpacity":0,"stroke":"#ff3cff","strokeWidth":4},
 "encoding":{
  "x":{"field":"x1","type":"quantitative","scale":{"domain":[-0.3125,152.9375],"nice":false,"zero":false},"axis":{"title":null,"labelOverlap":false,"tickCount":200}},
  "x2":{"field":"x2"},
  "y":{"field":"p1","type":"quantitative","scale":{"domain":[153.5987,158.1756],"nice":false,"zero":false},"axis":{"title":null,"labelOverlap":false,"tickCount":200}},
  "y2":{"field":"p2"}}},
{"data":{"name":"event"},"mark":{"type":"rule","color":"#8a2be2","strokeWidth":4},
 "encoding":{
  "x":{"field":"i","type":"quantitative","scale":{"domain":[-0.3125,152.9375],"nice":false,"zero":false},"axis":{"title":null,"labelOverlap":false,"tickCount":200}}}},
{"data":{"name":"signal"},"mark":{"type":"point","shape":"M-0.42,-1L0.42,-1L0.42,0.08L0.9,0.08L0,1L-0.9,0.08L-0.42,0.08Z","size":380,"filled":true,"fill":"#ffe2d2","stroke":"#ff2a00","strokeWidth":1.5,"opacity":1},
 "encoding":{
  "x":{"field":"i","type":"quantitative","scale":{"domain":[-0.3125,152.9375],"nice":false,"zero":false},"axis":{"title":null,"labelOverlap":false,"tickCount":200}},
  "y":{"field":"p","type":"quantitative","scale":{"domain":[153.5987,158.1756],"nice":false,"zero":false},"axis":{"title":null,"labelOverlap":false,"tickCount":200}}}},
{"data":{"name":"price"},"mark":{"type":"rect","fill":"#c80000","clip":false},
 "encoding":{
  "x":{"datum":153.06,"type":"quantitative","scale":{"domain":[-0.3125,152.9375],"nice":false,"zero":false},"axis":{"title":null,"labelOverlap":false,"tickCount":200}},
  "x2":{"datum":158.56},
  "y":{"datum":157.808,"type":"quantitative","scale":{"domain":[153.5987,158.1756],"nice":false,"zero":false},"axis":{"title":null,"labelOverlap":false,"tickCount":200}},
  "y2":{"datum":157.729}}},
{"data":{"name":"price"},"mark":{"type":"text","color":"#ffffff","fontSize":9,"font":"Liberation Sans","align":"left","baseline":"middle","clip":false},
 "encoding":{
  "x":{"datum":153.69,"type":"quantitative","scale":{"domain":[-0.3125,152.9375],"nice":false,"zero":false},"axis":{"title":null,"labelOverlap":false,"tickCount":200}},
  "y":{"field":"price","type":"quantitative","scale":{"domain":[153.5987,158.1756],"nice":false,"zero":false},"axis":{"title":null,"labelOverlap":false,"tickCount":200}},
  "text":{"field":"price","type":"quantitative","format":".3f"}}},
{"data":{"name":"event"},"mark":{"type":"rect","fill":"#8a2be2","clip":false},
 "encoding":{
  "x":{"datum":103.03,"type":"quantitative","scale":{"domain":[-0.3125,152.9375],"nice":false,"zero":false},"axis":{"title":null,"labelOverlap":false,"tickCount":200}},
  "x2":{"datum":112.8},
  "y":{"datum":153.575,"type":"quantitative","scale":{"domain":[153.5987,158.1756],"nice":false,"zero":false},"axis":{"title":null,"labelOverlap":false,"tickCount":200}},
  "y2":{"datum":153.508}}},
{"data":{"name":"event"},"mark":{"type":"text","color":"#ffffff","fontSize":9,"font":"Liberation Sans","align":"center","baseline":"middle","clip":false},
 "encoding":{
  "x":{"field":"i","type":"quantitative","scale":{"domain":[-0.3125,152.9375],"nice":false,"zero":false},"axis":{"title":null,"labelOverlap":false,"tickCount":200}},
  "y":{"datum":153.542,"type":"quantitative","scale":{"domain":[153.5987,158.1756],"nice":false,"zero":false},"axis":{"title":null,"labelOverlap":false,"tickCount":200}},
  "text":{"field":"label","type":"nominal"}}}
]
}
